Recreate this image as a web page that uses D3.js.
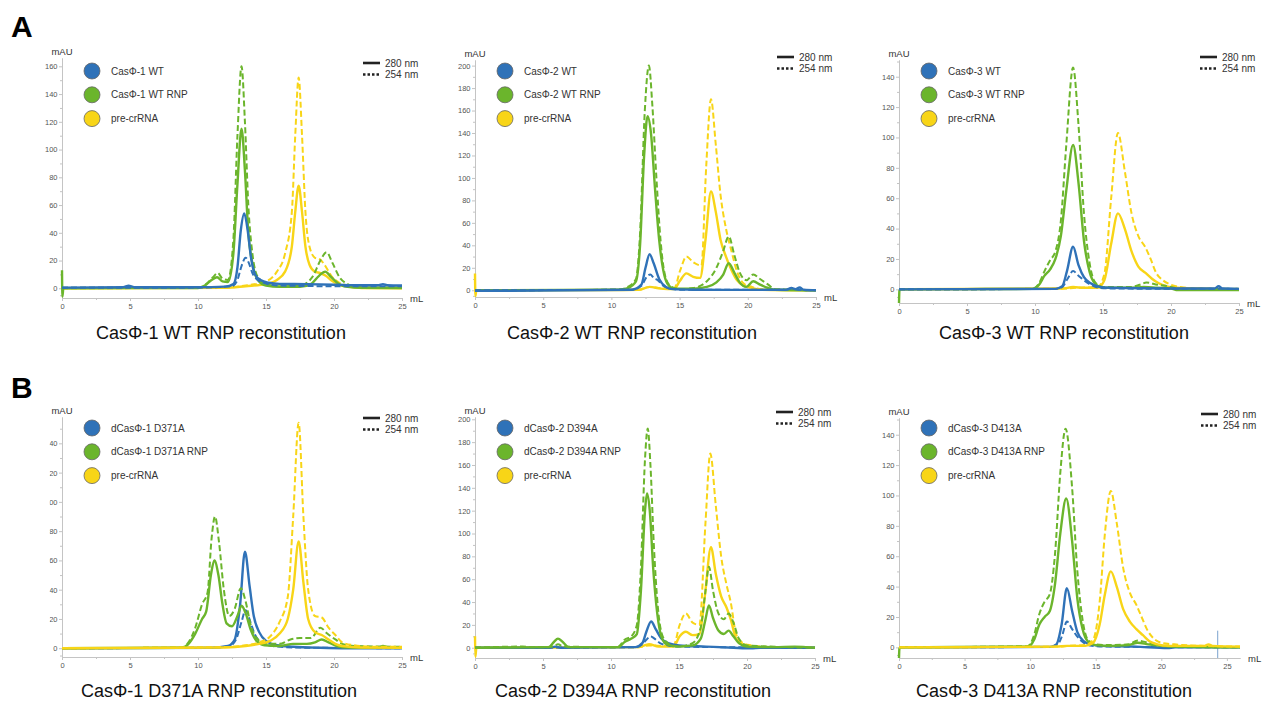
<!DOCTYPE html>
<html>
<head>
<meta charset="utf-8">
<script src="https://cdn.jsdelivr.net/npm/d3@7"></script>
<style>
  body { margin: 0; background: #fff; }
  svg { font-family: "Liberation Sans", Arial, sans-serif; }
  .tick text { fill: #555; font-size: 7.5px; }
  .domain, .tick line { stroke: #c4c4c4; }
</style>
</head>
<body>
<svg id="chart" width="1263" height="704"></svg>
<script>
// sample colours (apo protein / RNP / pre-crRNA)
const sampleColors = ["#2f72b8", "#6bb52c", "#f8d517"];
const xTicks = [0, 5, 10, 15, 20, 25];

// ---- A1 : CasPhi-1 WT ----  [mL, mAU]
const wt1_apo_280 = [[0,0.5],[4.5,0.8],[4.9,1.8],[5.3,0.8],[10,0.8],[12,1.2],[12.6,3],[12.9,15],[13.15,42],[13.4,54],[13.65,42],[13.9,22],[14.2,10],[14.6,6],[15.2,4],[16,3.2],[18,3],[20,2.6],[22,2.2],[23.3,2.2],[23.6,3],[23.9,2.2],[25,2]];
const wt1_apo_254 = [[0,0.3],[10,0.5],[12.5,1.5],[12.9,6],[13.2,16],[13.5,22],[13.75,18],[14,11],[14.4,6],[15,3.5],[16,2],[20,1.5],[25,1.5]];
const wt1_rnp_280 = [[0,13],[0.03,-6],[0.1,0],[10,0.2],[10.5,2],[11,6],[11.4,8],[11.8,5],[12.2,4.5],[12.6,25],[12.9,75],[13.2,115],[13.45,85],[13.7,40],[14,18],[14.4,6],[15,2],[16,1],[17.5,1],[18.3,3],[18.9,9],[19.35,12],[19.8,8],[20.3,3.5],[21,1],[22,0.3],[25,0.2]];
const wt1_rnp_254 = [[0,0.3],[10,0.5],[10.6,3],[11.1,8],[11.45,11],[11.8,7],[12.2,6],[12.6,35],[12.9,110],[13.2,160],[13.45,120],[13.7,60],[14,25],[14.4,8],[15,3],[16,1.5],[17.5,2],[18.4,8],[19,20],[19.45,26],[19.9,18],[20.4,8],[21,3],[21.6,1],[25,0.5]];
const wt1_pre_280 = [[0,0],[12,0.3],[13.5,1.5],[15,3],[15.8,6],[16.4,12],[16.9,30],[17.15,55],[17.4,74],[17.65,55],[17.9,30],[18.2,17],[18.6,12],[19,11],[19.4,9],[19.9,5],[20.4,2.5],[21.2,1],[22,0.2],[25,0]];
const wt1_pre_254 = [[0,0],[12,0.5],[13.5,2],[15,5],[15.8,12],[16.4,25],[16.9,55],[17.15,110],[17.4,152],[17.65,110],[17.9,55],[18.2,30],[18.6,22],[18.95,21],[19.3,17],[19.8,9],[20.4,4],[21,2],[22,1],[25,1]];

// ---- A2 : CasPhi-2 WT ----
const wt2_apo_280 = [[0,-0.5],[11.5,0.5],[12.2,5],[12.5,20],[12.8,32],[13.1,24],[13.5,10],[14,3],[14.5,1],[16,0.5],[20,0.3],[22.8,0.5],[23.2,2],[23.5,1],[23.8,2.5],[24.1,0.5],[25,0]];
const wt2_apo_254 = [[0,0],[11.5,0.5],[12.2,4],[12.6,12],[12.85,14],[13.1,11],[13.4,9],[13.8,4],[14.3,1.5],[15,0.5],[22.8,0.5],[23.3,2],[23.6,0.5],[25,0]];
const wt2_rnp_280 = [[0,0],[10.5,0.5],[11.2,2],[11.8,8],[12.1,40],[12.4,120],[12.65,155],[12.9,140],[13.2,90],[13.5,45],[13.8,18],[14.1,6],[14.6,1.5],[16,1.5],[17,3],[17.7,7],[18.2,14],[18.6,24],[19,16],[19.4,7],[19.9,3],[20.4,8],[20.9,5],[21.5,2],[22,0.5],[25,0]];
const wt2_rnp_254 = [[0,0],[10.5,0.5],[11.2,3],[11.8,10],[12.1,50],[12.45,160],[12.75,200],[13,165],[13.3,100],[13.6,45],[13.9,15],[14.3,4],[15,1],[16,2],[17,8],[17.7,20],[18.2,35],[18.6,48],[19,32],[19.4,16],[19.9,9],[20.4,14],[20.9,10],[21.5,5],[22,1],[25,0]];
const wt2_pre_280 = [[0,15],[0.03,-5],[0.1,0],[12,0.3],[12.8,3],[13.6,1.5],[14.6,1],[15,8],[15.5,15],[16,12],[16.5,11],[16.9,45],[17.3,88],[17.65,70],[18,45],[18.4,30],[18.8,18],[19.2,9],[19.7,4],[20.3,2],[21,0.5],[25,0]];
const wt2_pre_254 = [[0,0],[12,0.5],[12.8,3],[13.6,2],[14.6,2],[15.05,18],[15.5,30],[16,25],[16.6,22],[16.95,110],[17.3,170],[17.65,130],[18,85],[18.4,55],[18.8,35],[19.2,17],[19.7,6],[20.3,3],[21,1],[25,0]];

// ---- A3 : CasPhi-3 WT ----
const wt3_apo_280 = [[0,0],[11.5,0.3],[12,2],[12.35,12],[12.8,28],[13.2,16],[13.6,8],[14.1,4],[14.6,2],[15.5,1],[20,0.5],[23.2,0.5],[23.5,2],[23.8,0.5],[25,0.3]];
const wt3_apo_254 = [[0,0],[11.5,0.3],[12,1.5],[12.4,7],[12.8,12],[13.2,9],[13.6,6],[14.1,3],[14.7,1],[16,0.5],[25,0.3]];
const wt3_rnp_280 = [[0,-9],[0.03,-1],[0.1,0],[9.8,0.3],[10.3,3],[10.7,9],[11.1,13],[11.5,20],[11.9,35],[12.3,65],[12.8,95],[13.2,70],[13.6,32],[14,12],[14.4,4],[15,1],[17,1],[18,1.5],[19,1],[20,0.5],[20.5,-0.5],[25,-0.5]];
const wt3_rnp_254 = [[0,0],[9.8,0.3],[10.3,4],[10.7,12],[11.1,19],[11.5,25],[11.9,45],[12.3,95],[12.8,146],[13.2,108],[13.6,50],[14,18],[14.4,5],[15,1.5],[17,1.5],[17.7,3],[18.2,4.5],[19,3],[19.8,2],[20.5,0.5],[25,0.3]];
const wt3_pre_280 = [[0,0],[12,0.5],[12.8,1.5],[13.6,1],[14.6,1],[15.1,6],[15.6,30],[16.1,50],[16.6,40],[17.1,25],[17.6,15],[18.1,11],[18.6,7],[19.1,4],[19.7,2],[20.5,1],[22,0.5],[25,0]];
const wt3_pre_254 = [[0,0],[12,0.5],[13,1],[14.6,1.5],[15.1,10],[15.6,60],[16.1,103],[16.6,78],[17.1,50],[17.6,35],[18.1,28],[18.5,20],[18.9,11],[19.4,6],[20,3],[20.7,1.5],[22,0.5],[25,0]];

// ---- B1 : dCasPhi-1 D371A ----
const d1_apo_280 = [[0,0],[11,0.3],[12.2,1.5],[12.7,6],[13.1,30],[13.45,66],[13.8,42],[14.1,22],[14.5,11],[15,5],[15.8,2],[17,1],[19,0.3],[21,0],[25,0]];
const d1_apo_254 = [[0,0],[11,0.3],[12.3,1.5],[12.8,6],[13.2,18],[13.5,26],[13.85,18],[14.2,9],[14.7,4],[15.5,1.5],[17,0.5],[25,0]];
const d1_rnp_280 = [[0,0],[8.8,0.3],[9.3,3],[9.8,10],[10.3,20],[10.6,25],[10.95,50],[11.2,60],[11.5,50],[11.8,30],[12.1,17],[12.5,15],[12.9,22],[13.2,29],[13.5,24],[13.9,12],[14.3,5],[14.9,2],[16,1.5],[17,3],[18,3],[18.6,4],[19.1,6],[19.6,4],[20.2,1.5],[21,0.5],[23.3,0.5],[23.6,1.5],[24,0.5],[25,0.5]];
const d1_rnp_254 = [[0,0],[8.8,0.5],[9.3,4],[9.8,14],[10.3,30],[10.7,38],[11,75],[11.25,90],[11.55,72],[11.9,40],[12.3,22],[12.7,27],[13.15,41],[13.5,32],[13.9,15],[14.4,6],[15,3],[16,3],[16.8,6],[17.5,7],[18.3,7],[19,14],[19.5,10],[20.1,6],[20.6,3],[21.5,1.5],[25,1]];
const d1_pre_280 = [[0,0],[12,0.5],[13.5,1.5],[14.5,3],[15.3,5],[16,10],[16.6,20],[17,40],[17.4,73],[17.75,45],[18.1,20],[18.6,11],[19.1,9],[19.6,6],[20.1,3],[20.6,1.5],[22,0.5],[25,0.3]];
const d1_pre_254 = [[0,0],[12,0.8],[13.5,2],[14.5,4],[15.3,8],[16,18],[16.6,35],[17,90],[17.4,154],[17.75,90],[18.1,40],[18.6,22],[19.1,21],[19.6,14],[20.1,9],[20.6,4],[21.5,2],[23,1],[25,1]];

// ---- B2 : dCasPhi-2 D394A ----
const d2_apo_280 = [[0,0],[5.5,0],[5.9,1],[6.3,0],[11.8,0.5],[12.3,4],[12.6,14],[12.95,23],[13.3,16],[13.7,8],[14.2,4],[15,2],[17,1],[19,0],[20.3,-0.5],[21,0],[25,0]];
const d2_apo_254 = [[0,0],[11.8,0.5],[12.3,3],[12.6,7],[12.9,10],[13.2,8],[13.6,4],[14.2,2],[15,1],[25,0]];
const d2_rnp_280 = [[0,0],[3.5,0.3],[5.4,0.5],[5.8,5],[6.1,8],[6.45,5],[6.9,0.5],[10.5,0.5],[11,5],[11.5,8],[11.9,12],[12.2,50],[12.5,120],[12.65,135],[12.85,120],[13.1,70],[13.4,30],[13.7,10],[14.1,3],[15,1],[16,2],[16.6,8],[16.95,25],[17.2,37],[17.5,26],[17.9,15],[18.3,12],[18.65,15],[19,10],[19.4,4],[20,1],[22,0.5],[23.5,1],[25,0]];
const d2_rnp_254 = [[0,0],[3.5,1],[4,0.5],[5.4,0.5],[5.9,2],[6.1,3],[6.5,1],[10.5,0.5],[11,7],[11.5,10],[11.9,20],[12.2,70],[12.5,165],[12.7,192],[12.9,160],[13.15,90],[13.45,35],[13.8,10],[14.3,3],[15,1],[16,4],[16.6,18],[16.95,50],[17.2,71],[17.5,50],[17.9,30],[18.3,25],[18.65,30],[19,22],[19.4,8],[20,2],[25,0]];
const d2_pre_280 = [[0,10],[0.03,-8],[0.1,0],[12,0.5],[12.8,3],[13.5,1],[14.6,1],[15.05,10],[15.5,14],[16,11],[16.5,12],[16.9,45],[17.35,88],[17.7,65],[18.1,45],[18.5,35],[18.8,25],[19.2,8],[19.7,3],[20.3,1.5],[21,0.5],[25,0]];
const d2_pre_254 = [[0,0],[12,0.5],[12.8,2],[14,1.5],[14.6,2],[15.05,20],[15.5,30],[16,22],[16.5,20],[16.95,110],[17.3,170],[17.7,125],[18.1,80],[18.5,55],[18.8,40],[19.2,12],[19.7,4],[20.3,2],[21,1],[25,0]];

// ---- B3 : dCasPhi-3 D413A ----
const d3_apo_280 = [[0,0],[11.5,0.3],[12,2],[12.4,15],[12.8,39],[13.2,24],[13.6,10],[14.1,4],[14.6,2],[15.5,1],[18,0.5],[20.5,-0.5],[21,0],[26,0]];
const d3_apo_254 = [[0,0],[11.5,0.3],[12.1,2],[12.45,8],[12.8,17],[13.2,12],[13.6,7],[14.1,3],[14.7,1],[16,0.5],[26,0]];
const d3_rnp_280 = [[0,-7],[0.03,-1],[0.1,0],[9.8,0.5],[10.3,5],[10.7,15],[11.1,20],[11.5,24],[11.9,42],[12.3,75],[12.75,98],[13.2,70],[13.6,32],[14,12],[14.4,4],[15,1.5],[16,1],[17.5,1.5],[18.2,3],[19,2],[20,1],[21,0.5],[26,0]];
const d3_rnp_254 = [[0,0],[9.8,0.8],[10.3,8],[10.7,22],[11.1,30],[11.5,35],[11.9,62],[12.3,115],[12.7,144],[13.2,105],[13.6,50],[14,18],[14.4,5],[15,2],[16,1.5],[17.5,2],[18.2,4.5],[19,3],[20,1],[21,0.5],[26,0]];
const d3_pre_280 = [[0,0],[12,0.5],[12.8,1],[14.2,1],[14.8,3],[15.3,15],[15.7,35],[16.15,50],[16.6,40],[17.1,25],[17.6,17],[18.1,12],[18.6,8],[19.1,4],[19.7,2],[20.5,1],[22,1],[23.3,1],[23.6,2],[23.9,1],[26,0.5]];
const d3_pre_254 = [[0,0],[12,0.5],[13,1],[14.2,1.5],[14.8,5],[15.3,30],[15.7,75],[16.15,103],[16.6,82],[17.1,52],[17.6,36],[18.1,28],[18.5,20],[18.9,12],[19.4,6],[20,3],[21,2],[23,1],[26,0.5]];
const d3_marker = [[24.3, 11], [24.3, -7]];

// legend names and titles
const names = [
  ["CasΦ-1 WT", "CasΦ-1 WT RNP", "pre-crRNA"],
  ["CasΦ-2 WT", "CasΦ-2 WT RNP", "pre-crRNA"],
  ["CasΦ-3 WT", "CasΦ-3 WT RNP", "pre-crRNA"],
  ["dCasΦ-1 D371A", "dCasΦ-1 D371A RNP", "pre-crRNA"],
  ["dCasΦ-2 D394A", "dCasΦ-2 D394A RNP", "pre-crRNA"],
  ["dCasΦ-3 D413A", "dCasΦ-3 D413A RNP", "pre-crRNA"]
];
const titles = [
  "CasΦ-1 WT RNP reconstitution", "CasΦ-2 WT RNP reconstitution", "CasΦ-3 WT RNP reconstitution",
  "CasΦ-1 D371A RNP reconstitution", "CasΦ-2 D394A RNP reconstitution", "CasΦ-3 D413A RNP reconstitution"
];
const yMaxTick = [160, 200, 140, 140, 200, 140];

const panels = [
  {left: 62,  top: 58,  bottom: 298, width: 340, xMax: 25, yDom: [-7, 166], wlTop: 63,  legY: 71,  titleX: 221,  titleY: 339, order: [2, 1, 0],
   traces: [[wt1_apo_280, wt1_apo_254], [wt1_rnp_280, wt1_rnp_254], [wt1_pre_280, wt1_pre_254]]},
  {left: 475, top: 60,  bottom: 297, width: 341, xMax: 25, yDom: [-6, 205], wlTop: 57,  legY: 71,  titleX: 632,  titleY: 339, order: [2, 1, 0],
   traces: [[wt2_apo_280, wt2_apo_254], [wt2_rnp_280, wt2_rnp_254], [wt2_pre_280, wt2_pre_254]]},
  {left: 899, top: 60,  bottom: 303, width: 340, xMax: 25, yDom: [-9, 151], wlTop: 57,  legY: 71,  titleX: 1064, titleY: 339, order: [2, 1, 0],
   traces: [[wt3_apo_280, wt3_apo_254], [wt3_rnp_280, wt3_rnp_254], [wt3_pre_280, wt3_pre_254]]},
  {left: 62,  top: 417, bottom: 657, width: 340, xMax: 25, yDom: [-6, 158], wlTop: 418, legY: 428, titleX: 219,  titleY: 697, order: [0, 1, 2], clipLabels: true,
   traces: [[d1_apo_280, d1_apo_254], [d1_rnp_280, d1_rnp_254], [d1_pre_280, d1_pre_254]]},
  {left: 475, top: 417, bottom: 658, width: 340, xMax: 25, yDom: [-9, 202], wlTop: 412, legY: 428, titleX: 633,  titleY: 697, order: [2, 0, 1],
   traces: [[d2_apo_280, d2_apo_254], [d2_rnp_280, d2_rnp_254], [d2_pre_280, d2_pre_254]]},
  {left: 899, top: 418, bottom: 658, width: 341, xMax: 26, yDom: [-7, 151], wlTop: 414, legY: 428, titleX: 1054, titleY: 697, order: [0, 1, 2],
   traces: [[d3_apo_280, d3_apo_254], [d3_rnp_280, d3_rnp_254], [d3_pre_280, d3_pre_254]], marker: d3_marker}
];

const svg = d3.select("#chart");

svg.append("text").attr("x", 11).attr("y", 37)
  .style("font-size", "30px").style("font-weight", "bold").text("A");
svg.append("text").attr("x", 11).attr("y", 398)
  .style("font-size", "30px").style("font-weight", "bold").text("B");

panels.forEach(function (p, pi) {
  const x = d3.scaleLinear().domain([0, p.xMax]).range([p.left, p.left + p.width]);
  const y = d3.scaleLinear().domain(p.yDom).range([p.bottom, p.top]);
  const g = svg.append("g");

  // y axis, major + minor ticks
  const major = d3.range(0, yMaxTick[pi] + 1, 20);
  const minor = d3.range(10, p.yDom[1], 20).concat([-5]);
  g.append("g").attr("transform", "translate(" + p.left + ",0)")
    .call(d3.axisLeft(y).tickValues(minor).tickFormat("").tickSize(2).tickSizeOuter(0));
  const ya = g.append("g").attr("transform", "translate(" + p.left + ",0)")
    .call(d3.axisLeft(y).tickValues(major).tickSize(3).tickPadding(1.5).tickSizeOuter(0));
  if (p.clipLabels) {
    // first digit of the 3-digit labels is cut off in the original figure
    // (clip rect is in the axis group's own coordinates)
    svg.append("clipPath").attr("id", "clip" + pi).append("rect")
      .attr("x", -12.3).attr("y", p.top - 20).attr("width", 40).attr("height", p.bottom - p.top + 40);
    ya.attr("clip-path", "url(#clip" + pi + ")");
  }

  // x axis at the bottom of the y domain
  const xMinor = d3.range(2.5, p.xMax, 5);
  g.append("g").attr("transform", "translate(0," + p.bottom + ")")
    .call(d3.axisBottom(x).tickValues(xMinor).tickFormat("").tickSize(2).tickSizeOuter(0));
  g.append("g").attr("transform", "translate(0," + p.bottom + ")")
    .call(d3.axisBottom(x).tickValues(xTicks).tickSize(3).tickPadding(3).tickSizeOuter(0));

  g.append("text").attr("x", p.left).attr("y", p.top - 3)
    .attr("text-anchor", "middle").style("font-size", "9.5px").style("fill", "#333").text("mAU");
  g.append("text").attr("x", p.left + p.width + 8).attr("y", p.bottom + 3.5)
    .style("font-size", "9.5px").style("fill", "#333").text("mL");

  if (p.marker) {
    g.append("path").datum(p.marker)
      .attr("d", d3.line().x(d => x(d[0])).y(d => y(d[1])))
      .attr("stroke", "#7aa2cf").attr("stroke-width", 1).attr("fill", "none");
  }

  // traces, drawn in the panel's stacking order
  const line = d3.line().x(d => x(d[0])).y(d => y(d[1])).curve(d3.curveMonotoneX);
  p.order.forEach(function (si) {
    g.append("path").datum(p.traces[si][1])
      .attr("d", line).attr("fill", "none")
      .attr("stroke", sampleColors[si]).attr("stroke-width", 2)
      .attr("stroke-dasharray", "6,3");
    g.append("path").datum(p.traces[si][0])
      .attr("d", line).attr("fill", "none")
      .attr("stroke", sampleColors[si]).attr("stroke-width", 2.4);
  });

  // sample legend
  names[pi].forEach(function (n, i) {
    const cy = p.legY + i * 23.8;
    g.append("circle").attr("cx", p.left + 30).attr("cy", cy).attr("r", 8)
      .attr("fill", sampleColors[i]).attr("stroke", "#666").attr("stroke-width", 0.8);
    g.append("text").attr("x", p.left + 49).attr("y", cy + 3.5)
      .style("font-size", "10px").style("fill", "#333").text(n);
  });

  // wavelength legend
  const right = p.left + p.width;
  [["280 nm", null, 2.6], ["254 nm", "2.5,2", 2.6]].forEach(function (w, i) {
    const ly = p.wlTop + i * 11.5;
    g.append("line").attr("x1", right - 39).attr("x2", right - 22).attr("y1", ly).attr("y2", ly)
      .attr("stroke", "#222").attr("stroke-width", w[2]).attr("stroke-dasharray", w[1]);
    g.append("text").attr("x", right - 17).attr("y", ly + 3.5)
      .style("font-size", "10px").style("fill", "#333").text(w[0]);
  });

  g.append("text").attr("x", p.titleX).attr("y", p.titleY)
    .attr("text-anchor", "middle").style("font-size", "18px").style("fill", "#111")
    .text(titles[pi]);
});
</script>
</body>
</html>
